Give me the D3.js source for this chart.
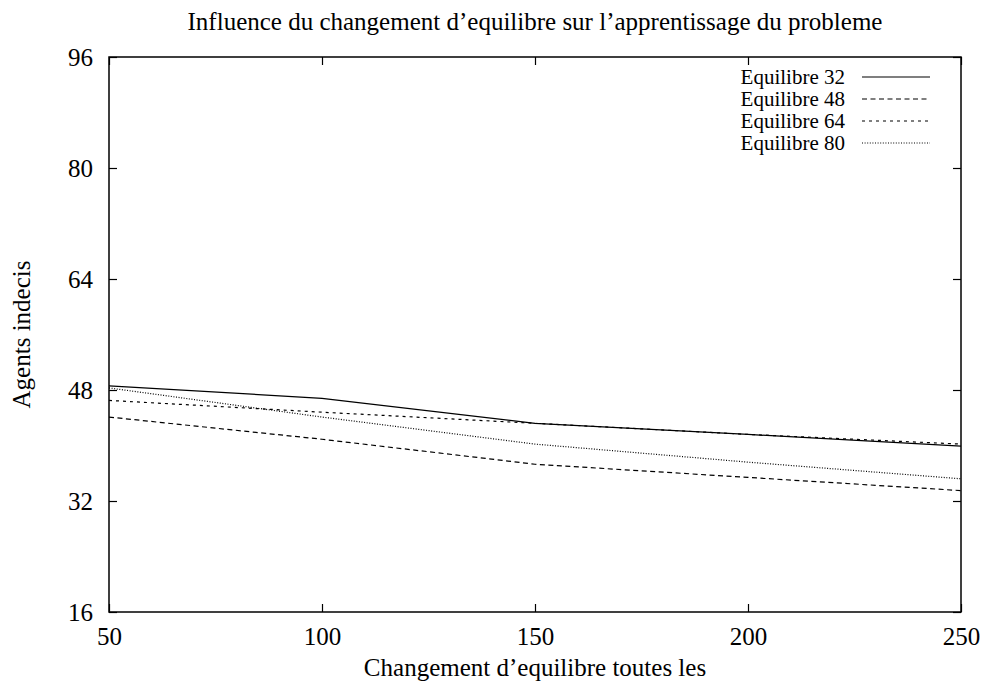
<!DOCTYPE html>
<html>
<head>
<meta charset="utf-8">
<script src="https://cdn.jsdelivr.net/npm/d3@7"></script>
<style>
  body { margin: 0; background: #fff; }
  text { font-family: 'Liberation Serif', 'DejaVu Serif', serif; fill: #000; }
</style>
</head>
<body>
<div id="chart"></div>
<script>
// data
var xValues = [50, 100, 150, 200, 250];
var eq32 = [48.6, 46.8, 43.2, 41.6, 39.9];
var eq48 = [44.1, 40.9, 37.3, 35.4, 33.5];
var eq64 = [46.5, 44.8, 43.2, 41.6, 40.2];
var eq80 = [48.3, 44.1, 40.2, 37.6, 35.2];
var seriesNames = ["Equilibre 32", "Equilibre 48", "Equilibre 64", "Equilibre 80"];
var xTicks = [50, 100, 150, 200, 250];
var yTicks = [16, 32, 48, 64, 80, 96];

var dashes = ["none", "5,3.5", "3,4", "1,1.6"];
var allSeries = [eq32, eq48, eq64, eq80];

var W = 986, H = 688;
var margin = {top: 57, right: 25, bottom: 76, left: 109};
var width = W - margin.left - margin.right,
    height = H - margin.top - margin.bottom;

var serif = "Liberation Serif";
var fs = 25;

var svg = d3.select("#chart").append("svg")
    .attr("width", W)
    .attr("height", H)
    .attr("font-family", serif);

var g = svg.append("g")
    .attr("transform", "translate(" + margin.left + "," + margin.top + ")");

var x = d3.scaleLinear().domain([50, 250]).range([0, width]);
var y = d3.scaleLinear().domain([16, 96]).range([height, 0]);

// inward ticks on all four sides
var tickLen = 8;
function noDomain(a){ a.select(".domain").remove(); a.attr("font-family", serif).attr("font-size", fs); }

g.append("g")
    .attr("transform", "translate(0," + height + ")")
    .call(d3.axisBottom(x).tickValues(xTicks).tickSizeInner(-tickLen).tickSizeOuter(0).tickPadding(15))
    .call(noDomain);
g.append("g")
    .call(d3.axisTop(x).tickValues(xTicks).tickSizeInner(-tickLen).tickSizeOuter(0).tickFormat(""))
    .call(noDomain);
g.append("g")
    .call(d3.axisLeft(y).tickValues(yTicks).tickSizeInner(-tickLen).tickSizeOuter(0).tickPadding(16))
    .call(noDomain);
g.append("g")
    .attr("transform", "translate(" + width + ",0)")
    .call(d3.axisRight(y).tickValues(yTicks).tickSizeInner(-tickLen).tickSizeOuter(0).tickFormat(""))
    .call(noDomain);

g.selectAll(".tick line").attr("stroke", "#000").attr("stroke-width", 1.2);
g.selectAll(".tick text").attr("fill", "#000");

g.append("rect")
    .attr("x", 0).attr("y", 0)
    .attr("width", width).attr("height", height)
    .attr("fill", "none")
    .attr("stroke", "#000")
    .attr("stroke-width", 1.5);

var line = d3.line()
    .x(function(d, i){ return x(xValues[i]); })
    .y(function(d){ return y(d); });

allSeries.forEach(function(s, i){
    g.append("path")
        .datum(s)
        .attr("d", line)
        .attr("fill", "none")
        .attr("stroke", "#000")
        .attr("stroke-width", 1.2)
        .attr("stroke-dasharray", dashes[i]);
});

// legend (a bit smaller so rows don't collide)
var legend = g.append("g");
seriesNames.forEach(function(name, i){
    var ly = 20 + i * 22;
    legend.append("text")
        .attr("x", 736)
        .attr("y", ly)
        .attr("dy", "0.33em")
        .attr("text-anchor", "end")
        .attr("font-family", serif)
        .attr("font-size", 21)
        .text(name);
    legend.append("line")
        .attr("x1", 753).attr("x2", 821)
        .attr("y1", ly).attr("y2", ly)
        .attr("stroke", "#000")
        .attr("stroke-width", 1.2)
        .attr("stroke-dasharray", dashes[i]);
});

// title and axis labels
svg.append("text")
    .attr("x", margin.left + width / 2)
    .attr("y", 30)
    .attr("text-anchor", "middle")
    .attr("font-family", serif)
    .attr("font-size", fs)
    .text("Influence du changement d\u2019equilibre sur l\u2019apprentissage du probleme");

svg.append("text")
    .attr("x", margin.left + width / 2)
    .attr("y", 676)
    .attr("text-anchor", "middle")
    .attr("font-family", serif)
    .attr("font-size", fs)
    .text("Changement d\u2019equilibre toutes les");

svg.append("text")
    .attr("transform", "translate(30," + (margin.top + height / 2) + ") rotate(-90)")
    .attr("text-anchor", "middle")
    .attr("font-family", serif)
    .attr("font-size", fs)
    .text("Agents indecis");
</script>
</body>
</html>
